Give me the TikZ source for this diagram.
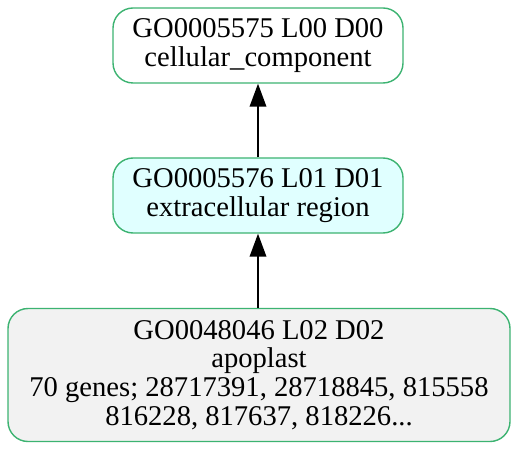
\documentclass[tikz,border=0pt]{standalone}
\usepackage{fontspec}
\setmainfont{Liberation Serif}
\usetikzlibrary{arrows.meta}
\definecolor{goedge}{HTML}{3CB371}
\definecolor{gocyan}{HTML}{E0FFFF}
\definecolor{gogray}{HTML}{F2F2F2}
\begin{document}
\begin{tikzpicture}[x=1pt,y=1pt,
    term/.style={draw=goedge, line width=0.7pt, rounded corners=10pt, align=center,
      inner sep=0pt, font=\fontsize{14.3}{14.4}\selectfont},
    isa/.style={-{Triangle[length=11.5pt,width=8.3pt]}, line width=0.8pt}]
		\useasboundingbox (0,0) rectangle (259,225);

		\node[term, fill=white, minimum width=145pt, minimum height=37.5pt] (root) at (129,202.25) {GO0005575 L00 D00\\cellular\_component};
		\node[term, fill=gocyan, minimum width=145pt, minimum height=37.5pt] (extra) at (129,127.25) {GO0005576 L01 D01\\extracellular region};
		\node[term, fill=gogray, minimum width=251pt, minimum height=66.5pt] (apo) at (129.5,37.5) {GO0048046 L02 D02\\apoplast\\70 genes; 28717391, 28718845, 815558\\816228, 817637, 818226...};

		\draw[isa] (extra) -- (root);
		\draw[isa] (extra.south |- apo.north) -- (extra);
	\end{tikzpicture}
\end{document}
